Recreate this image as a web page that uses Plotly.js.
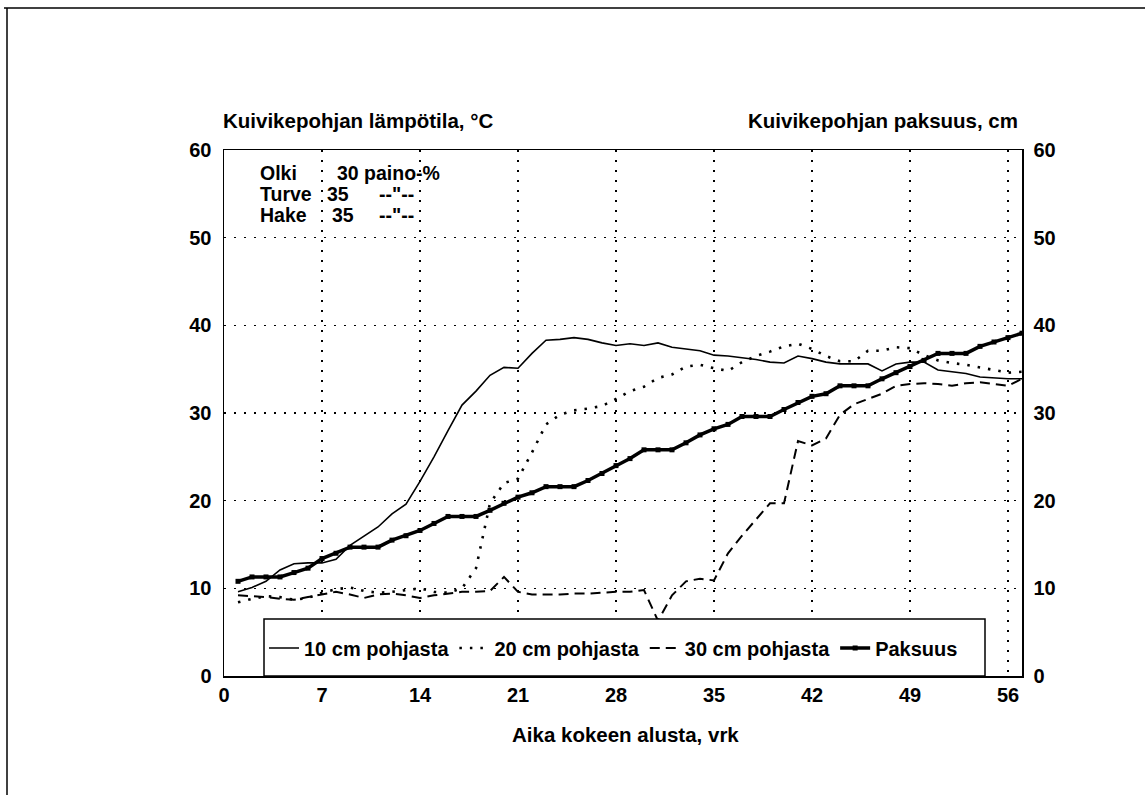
<!DOCTYPE html>
<html>
<head>
<meta charset="utf-8">
<script src="https://cdn.plot.ly/plotly-3.0.1.min.js"></script>
<style>
  html, body { margin: 0; padding: 0; background: #fff; }
  #chart { width: 1145px; height: 795px; }
</style>
</head>
<body>
<div id="chart"></div>
<script>
// Day of the trial
const days = [1, 2, 3, 4, 5, 6, 7, 8, 9, 10, 11, 12, 13, 14, 15, 16, 17, 18, 19, 20,
  21, 22, 23, 24, 25, 26, 27, 28, 29, 30, 31, 32, 33, 34, 35, 36, 37, 38, 39, 40,
  41, 42, 43, 44, 45, 46, 47, 48, 49, 50, 51, 52, 53, 54, 55, 56, 57];

// Bedding temperature (°C) at 10, 20 and 30 cm above the floor
const temp10 = [9.6, 10.1, 10.8, 12.1, 12.8, 12.9, 12.9, 13.3, 14.9, 15.9,
  17.0, 18.5, 19.6, 22.2, 25.0, 28.0, 30.9, 32.5, 34.3, 35.2,
  35.1, 36.8, 38.3, 38.4, 38.6, 38.4, 38.0, 37.7, 37.9, 37.7,
  38.0, 37.5, 37.3, 37.1, 36.6, 36.5, 36.3, 36.1, 35.8, 35.7,
  36.5, 36.2, 35.8, 35.6, 35.6, 35.6, 34.8, 35.6, 35.8, 35.8,
  34.9, 34.7, 34.5, 34.1, 34.0, 33.9, 33.9];

const temp20 = [8.4, 8.8, 9.1, 9.0, 8.7, 8.9, 9.5, 9.9, 10.1, 9.7,
  9.5, 9.6, 9.8, 10.0, 9.6, 9.5, 10.0, 12.3, 19.7, 22.0,
  22.5, 25.5, 28.7, 29.8, 30.3, 30.5, 30.8, 31.6, 32.5, 33.0,
  34.0, 34.4, 35.3, 35.5, 35.1, 34.8, 35.8, 36.5, 37.0, 37.6,
  37.9, 37.3, 36.5, 35.9, 35.9, 37.1, 37.1, 37.5, 37.4, 36.6,
  36.0, 35.7, 35.5, 35.2, 34.9, 34.6, 34.7];

const temp30 = [9.2, 9.1, 9.0, 8.8, 8.7, 9.0, 9.3, 9.6, 9.3, 8.9,
  9.3, 9.4, 9.2, 8.9, 9.2, 9.4, 9.6, 9.6, 9.7, 11.3,
  9.6, 9.3, 9.3, 9.3, 9.4, 9.4, 9.5, 9.6, 9.6, 9.8,
  6.3, 9.2, 10.8, 11.1, 10.9, 14.0, 16.0, 17.8, 19.7, 19.7,
  26.8, 26.3, 27.1, 29.8, 31.0, 31.6, 32.2, 33.1, 33.3, 33.4,
  33.3, 33.1, 33.4, 33.5, 33.3, 33.1, 33.9];

// Bedding thickness (cm)
const thickness = [10.8, 11.3, 11.3, 11.3, 11.8, 12.3, 13.4, 14.0, 14.7, 14.7,
  14.7, 15.5, 16.0, 16.6, 17.4, 18.2, 18.2, 18.2, 18.9, 19.7,
  20.4, 20.9, 21.6, 21.6, 21.6, 22.3, 23.1, 24.0, 24.8, 25.8,
  25.8, 25.8, 26.6, 27.5, 28.2, 28.7, 29.6, 29.6, 29.6, 30.4,
  31.2, 31.9, 32.2, 33.1, 33.1, 33.1, 33.9, 34.6, 35.3, 36.0,
  36.8, 36.8, 36.8, 37.6, 38.1, 38.6, 39.1];

const seriesNames = ["10 cm pohjasta", "20 cm pohjasta", "30 cm pohjasta", "Paksuus"];

const xTicks = [0, 7, 14, 21, 28, 35, 42, 49, 56];
const yTicks = [0, 10, 20, 30, 40, 50, 60];

// Bedding mixture
const mixNames = ["Olki", "Turve", "Hake"];
const mixShares = ["30 paino-%", "35", "35"];
const mixUnits = ["", "--\"--", "--\"--"];

const titleLeft = "Kuivikepohjan lämpötila, °C";
const titleRight = "Kuivikepohjan paksuus, cm";
const titleX = "Aika kokeen alusta, vrk";

// ---- page geometry ----
const W = 1145, H = 795;
const M = { l: 224, r: 123, t: 150, b: 119 };
const PW = W - M.l - M.r, PH = H - M.t - M.b;
const fx = px => (px - M.l) / PW;          // pixel column -> paper x
const fy = py => (H - M.b - py) / PH;      // pixel row -> paper y

const FONT = "Liberation Sans, Arial, Helvetica, sans-serif";
const ink = "#000";
const tickFont = { family: FONT, size: 20, color: ink, weight: "bold" };
const textFont = { family: FONT, size: 20.5, color: ink, weight: "bold" };
const tableFont = { family: FONT, size: 19.5, color: ink, weight: "bold" };
const dotGrid = "2px,8px";

const traces = [
  { x: days, y: temp10, name: seriesNames[0], type: "scatter", mode: "lines",
    line: { color: ink, width: 1.6 } },
  { x: days, y: temp20, name: seriesNames[1], type: "scatter", mode: "lines",
    line: { color: ink, width: 2.6, dash: "2.5px,8px" } },
  { x: days, y: temp30, name: seriesNames[2], type: "scatter", mode: "lines",
    line: { color: ink, width: 2, dash: "10px,6px" } },
  { x: days, y: thickness, name: seriesNames[3], type: "scatter", mode: "lines+markers",
    yaxis: "y2",
    line: { color: ink, width: 3.5 },
    marker: { color: ink, symbol: "square", size: 5 } }
];

const annotations = [
  { text: titleLeft, xref: "paper", yref: "paper", x: fx(221), y: fy(121),
    xanchor: "left", yanchor: "middle", showarrow: false, font: textFont },
  { text: titleRight, xref: "paper", yref: "paper", x: fx(1020), y: fy(121),
    xanchor: "right", yanchor: "middle", showarrow: false, font: textFont },
  { text: titleX, xref: "paper", yref: "paper", x: fx(625), y: fy(734),
    xanchor: "center", yanchor: "middle", showarrow: false, font: textFont }
];

// Mixture table in the upper-left corner of the plot
const rowY = [173, 194, 215];
const shareX = [335, 325, 330];
mixNames.forEach((n, i) => {
  annotations.push({ text: n, xref: "paper", yref: "paper", x: fx(258), y: fy(rowY[i]),
    xanchor: "left", yanchor: "middle", showarrow: false, font: tableFont });
  annotations.push({ text: mixShares[i], xref: "paper", yref: "paper", x: fx(shareX[i]), y: fy(rowY[i]),
    xanchor: "left", yanchor: "middle", showarrow: false, font: tableFont });
  if (mixUnits[i]) {
    annotations.push({ text: mixUnits[i], xref: "paper", yref: "paper", x: fx(377), y: fy(rowY[i]),
      xanchor: "left", yanchor: "middle", showarrow: false, font: tableFont });
  }
});

const shapes = [
  // page frame
  { type: "line", xref: "paper", yref: "paper", x0: fx(4), x1: fx(1145), y0: fy(8), y1: fy(8),
    line: { color: ink, width: 1.5 } },
  { type: "line", xref: "paper", yref: "paper", x0: fx(7), x1: fx(7), y0: fy(8), y1: fy(795),
    line: { color: ink, width: 1.5 } },
  // legend box resting on the x axis
  { type: "rect", xref: "paper", yref: "paper", layer: "above",
    x0: fx(264), x1: fx(985), y0: 0, y1: fy(619),
    fillcolor: "#fff", line: { color: ink, width: 1.5 } }
];

const layout = {
  width: W, height: H,
  margin: M,
  paper_bgcolor: "#fff", plot_bgcolor: "#fff",
  showlegend: true,
  legend: {
    orientation: "h", x: fx(264), xanchor: "left", y: fy(648), yanchor: "middle",
    bgcolor: "rgba(0,0,0,0)", borderwidth: 0,
    font: { family: FONT, size: 20, color: ink, weight: "bold" },
    itemwidth: 30, tracegroupgap: 0
  },
  xaxis: {
    range: [0, 57], tickmode: "array", tickvals: xTicks, ticktext: xTicks.map(String),
    showgrid: true, gridcolor: ink, gridwidth: 1.5, griddash: dotGrid,
    showline: true, linecolor: ink, linewidth: 1.5, mirror: true, zeroline: false,
    ticks: "", tickfont: tickFont, fixedrange: true
  },
  yaxis: {
    range: [0, 60], tickmode: "array", tickvals: yTicks, ticktext: yTicks.map(String),
    showgrid: true, gridcolor: ink, gridwidth: 1.5, griddash: dotGrid,
    showline: true, linecolor: ink, linewidth: 1.5, zeroline: false,
    ticks: "outside", ticklen: 7, tickcolor: "rgba(0,0,0,0)",
    tickfont: tickFont, fixedrange: true
  },
  yaxis2: {
    overlaying: "y", side: "right",
    range: [0, 60], tickmode: "array", tickvals: yTicks, ticktext: yTicks.map(String),
    showgrid: false, showline: true, linecolor: ink, linewidth: 1.5, zeroline: false,
    ticks: "outside", ticklen: 6, tickcolor: "rgba(0,0,0,0)",
    tickfont: tickFont, fixedrange: true
  },
  annotations: annotations,
  shapes: shapes
};

Plotly.newPlot("chart", traces, layout, { staticPlot: true, displayModeBar: false });
</script>
</body>
</html>
